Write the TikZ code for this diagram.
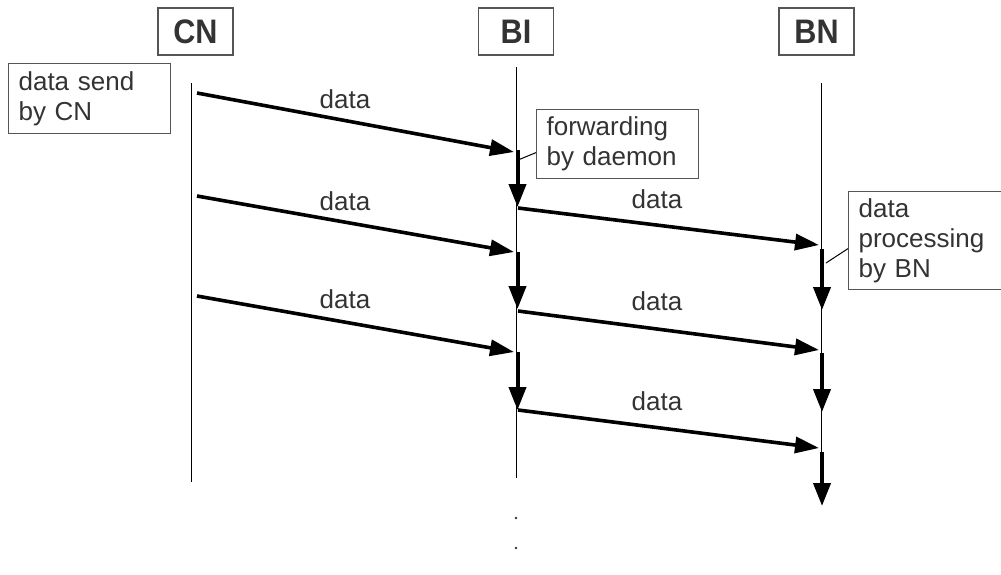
\documentclass[tikz,border=0pt]{standalone}
\usepackage{fontspec}
\setmainfont{Liberation Sans}
\usepackage{xcolor}
\usetikzlibrary{arrows.meta, positioning, calc}

\definecolor{txt}{HTML}{333333}
\definecolor{frame}{HTML}{555555}

\tikzset{
  head/.style={draw=frame, line width=0.7pt, text=txt, inner sep=0pt,
    font=\bfseries\fontsize{17}{19}\selectfont,
    minimum width=37.5pt, minimum height=23.5pt},
  note/.style={draw=frame, line width=0.6pt, text=txt, anchor=north west,
    align=left, inner xsep=5pt, inner ysep=0pt,
    font=\fontsize{13}{15}\selectfont},
  lbl/.style={text=txt, font=\fontsize{13}{15}\selectfont},
  life/.style={line width=0.5pt},
  msg/.style={-{Triangle[length=12pt, width=8pt]}, line width=1.8pt},
  work/.style={-{Triangle[length=11.5pt, width=8.5pt]}, line width=2pt},
}

\begin{document}
\begin{tikzpicture}[x=0.5pt, y=-0.5pt]
    \useasboundingbox (0,0) rectangle (1001,574);

    % Heads
    \node[head] (cn) at (195.5,31.5) {\scalebox{0.9}[1]{CN}};
    \node[head] (bi) at (516,31.5) {\scalebox{0.9}[1]{BI}};
    \node[head] (bn) at (816.5,31.5) {\scalebox{0.9}[1]{BN}};

    % Lifelines
    \coordinate (cntop) at (191,83);  \coordinate (cnend) at (191,482);
    \coordinate (bitop) at (516,67);  \coordinate (biend) at (516,478);
    \coordinate (bntop) at (821,83);  \coordinate (bnend) at (821,490);
    \draw[life] (cntop) -- (cnend);
    \draw[life] (bitop) -- (biend);
    \draw[life] (bntop) -- (bnend);

    % Notes
    \node[note, text width=71pt, minimum height=35pt] (send) at (8,63)
        {data send\\by CN};
    \node[note, text width=71pt, minimum height=34.5pt] (fwd) at (536,109)
        {forwarding\\by daemon};
    \node[note, text width=66.5pt, minimum height=49pt] (proc) at (848,191)
        {data\\processing\\by BN};

    % Messages CN -> BI
    \coordinate (c1) at (197,93);   \coordinate (b1) at (514,152);
    \coordinate (c2) at (197,196);  \coordinate (b2) at (514,252);
    \coordinate (c3) at (197,296);  \coordinate (b3) at (514,352);
    \draw[msg] (c1) -- (b1);
    \draw[msg] (c2) -- (b2);
    \draw[msg] (c3) -- (b3);
    \node[lbl] (d1) at (345,99) {data};
    \node[lbl] (d2) at (345,201) {data};
    \node[lbl] (d3) at (345,299) {data};

    % Messages BI -> BN
    \coordinate (s1) at (518,208);  \coordinate (n1) at (819,245);
    \coordinate (s2) at (518,311);  \coordinate (n2) at (819,350);
    \coordinate (s3) at (518,410);  \coordinate (n3) at (819,448);
    \draw[msg] (s1) -- (n1);
    \draw[msg] (s2) -- (n2);
    \draw[msg] (s3) -- (n3);
    \node[lbl] (e1) at (657,199) {data};
    \node[lbl] (e2) at (657,301) {data};
    \node[lbl] (e3) at (657,401) {data};

    % Work on BI and BN
    \foreach \a/\b in {150/207, 252/309, 352/410}
        \draw[work] (517.5,\a) -- (517.5,\b);
    \foreach \a/\b in {249/310, 353/412, 452/506}
        \draw[work] (822,\a) -- (822,\b);

    % Note links
    \coordinate (fwdpin) at (518,160);
    \coordinate (procpin) at (826,263);
    \draw[life] (fwdpin) -- ($(fwd.west)+(0,8.5)$);
    \draw[life] (procpin) -- ($(proc.west)+(0,8)$);

    % More to come
    \fill[txt] (516,518) circle (1.3);
    \fill[txt] (516,548) circle (1.3);
\end{tikzpicture}
\end{document}
